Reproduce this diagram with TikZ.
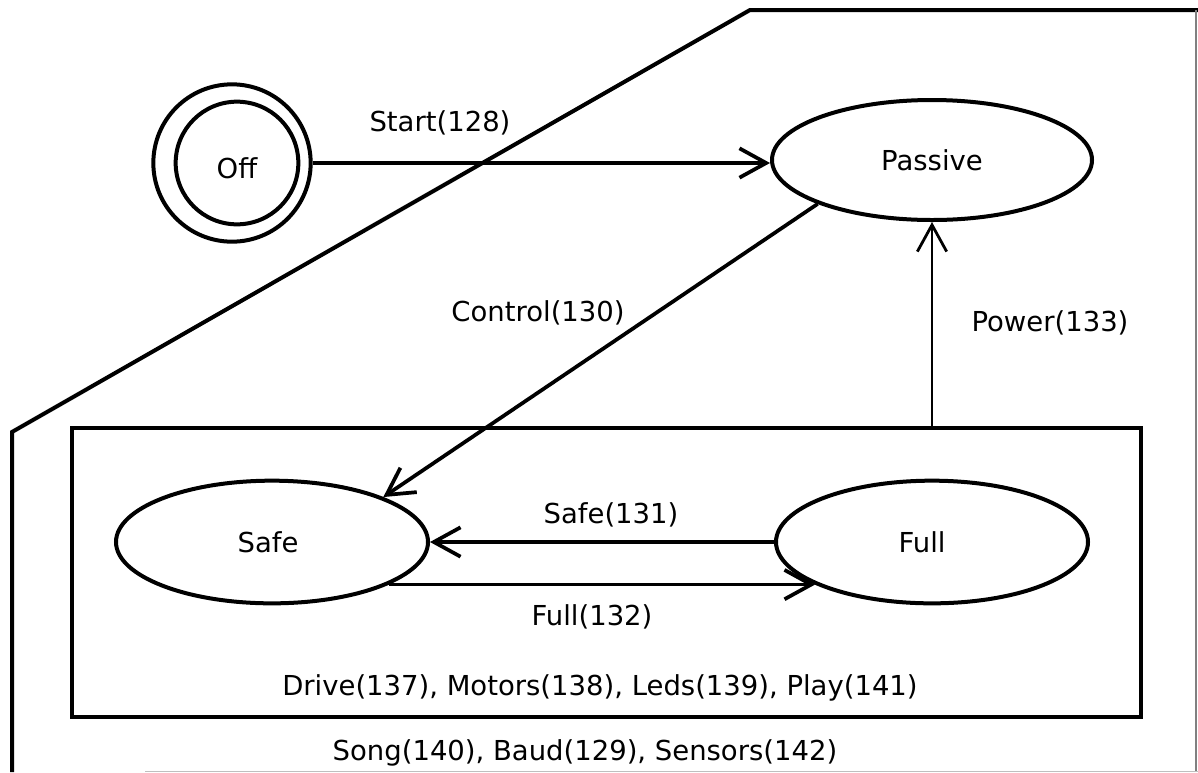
\documentclass[tikz,border=0pt]{standalone}
\usepackage{fontspec}
\setmainfont{DejaVu Sans}
\usetikzlibrary{arrows.meta,shapes.geometric}
\begin{document}
\begin{tikzpicture}[x=0.75pt,y=-0.75pt,
  every node/.style={font=\fontsize{20.6}{24}\selectfont, inner sep=0pt},
  bigell/.style={draw, ellipse, line width=3pt, minimum width=240pt, minimum height=90pt},
  midell/.style={draw, ellipse, line width=3pt, minimum width=234pt, minimum height=92pt},
  ring/.style={draw, circle, line width=3pt},
  conn/.style={line width=2.8pt, -{Straight Barb[length=20pt,width=22pt]}},
  lbl/.style={anchor=base},
  frame/.style={line width=3pt, line join=miter}]
\useasboundingbox (0,0) rectangle (1198,772);
% outer frame
\draw[frame] (12,772) -- (12,432) -- (750,10) -- (1198,10);
\draw[gray, line width=0.9pt] (1196,10) -- (1196,772);
\draw[gray!50, line width=0.6pt] (145,771.5) -- (1198,771.5);
% nodes
\node[ring, minimum size=118pt] (offo) at (232,163) {};
\node[ring, minimum size=92pt] (off) at (237,163) {\raisebox{-3.75pt}[15pt][0pt]{Off}};
\node[bigell] (passive) at (932,160) {Passive};
\node[draw, rectangle, line width=3.4pt, minimum width=801.75pt, minimum height=216.75pt] (box) at (606.5,572.5) {};
\node[midell] (safe) at (272,542) {Safe\hspace*{6pt}};
\node[midell] (full) at (932,542) {Full\hspace*{15pt}};
% connectors
\draw[conn] (offo.east) -- (offo.east -| passive.west);
\draw[conn] (passive.201.5) -- (safe.22);
\draw[conn, line width=2.1pt] (passive.south |- box.north) -- (passive.south);
\draw[conn] (full.west) -- (safe.east);
\draw[conn] (safe.-20) -- (full.200);
% labels
\node[lbl] (lstart) at (440,131) {Start(128)};
\node[lbl] (lctrl) at (538,321) {Control(130)};
\node[lbl] (lpow) at (1050,331) {Power(133)};
\node[lbl] (lsafe) at (611,523) {Safe(131)};
\node[lbl] (lfull) at (592,625) {Full(132)};
\node[lbl] (ldrive) at (600,695) {Drive(137), Motors(138), Leds(139), Play(141)};
\node[lbl] (lsong) at (585,760) {Song(140), Baud(129), Sensors(142)};
\end{tikzpicture}
\end{document}
